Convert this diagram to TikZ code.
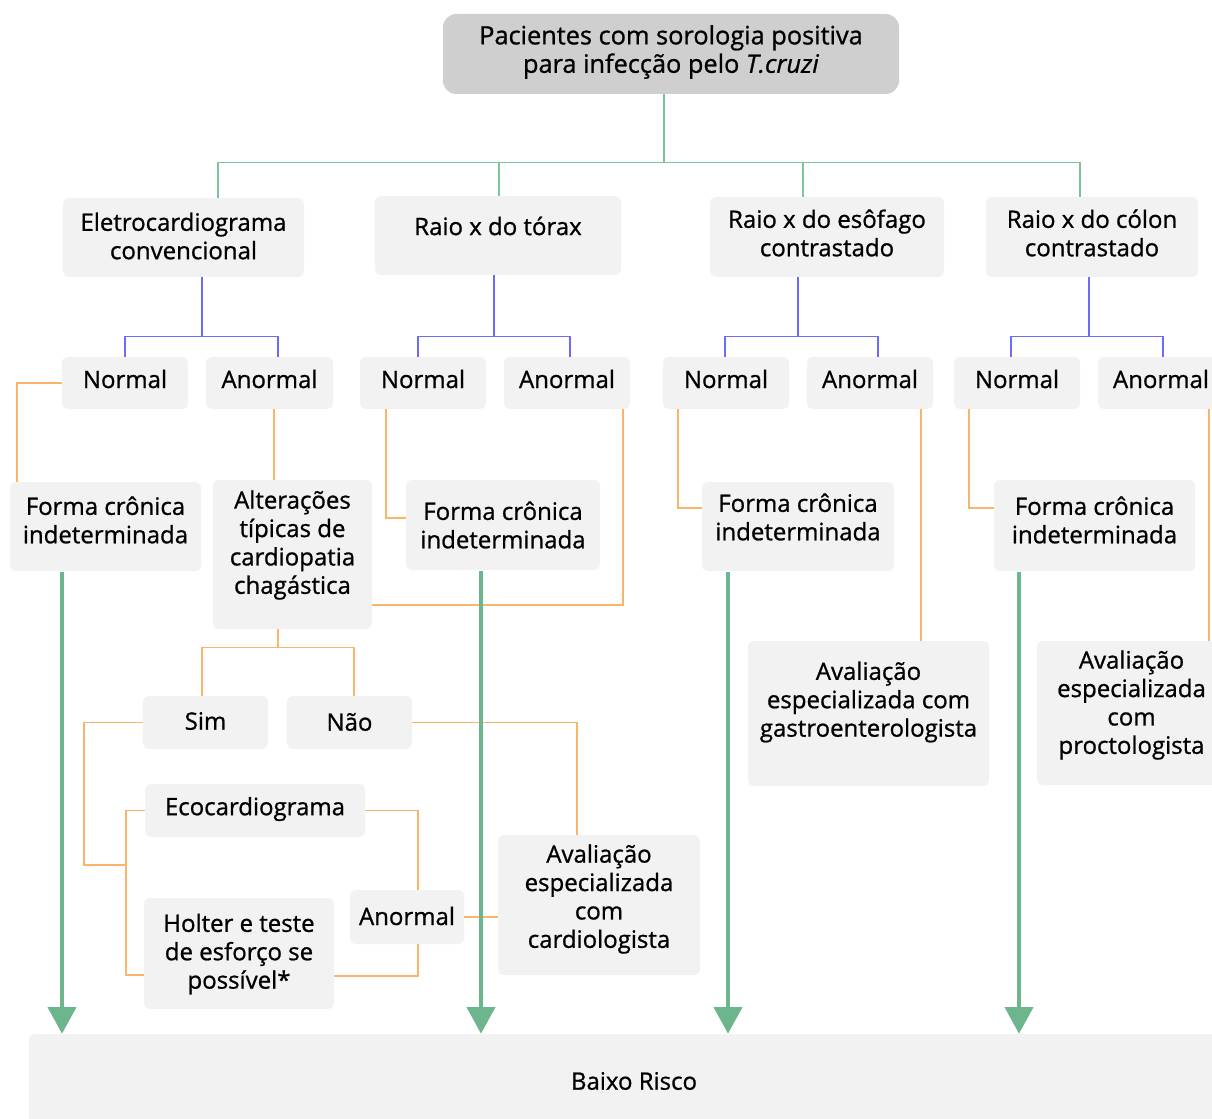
\documentclass[tikz,border=0pt]{standalone}
\usepackage{fontspec}
\setmainfont{Open Sans}[RawFeature={embolden=0.9}]
\usetikzlibrary{arrows.meta,calc}
\definecolor{boxgray}{HTML}{F2F2F2}
\definecolor{topgray}{HTML}{CFCFCF}
\definecolor{treegreen}{HTML}{7CC49B}
\definecolor{arrgreen}{HTML}{6DB58C}
\definecolor{linkblue}{HTML}{6B6BFF}
\definecolor{linkorange}{HTML}{F9B66B}

\tikzset{
  box/.style={rectangle, fill=boxgray, rounded corners=4pt, inner sep=0pt},
  topbox/.style={rectangle, fill=topgray, rounded corners=10pt, inner sep=0pt},
  txt/.style={align=center, inner sep=0pt, font=\fontsize{18}{21.3}\selectfont},
  gline/.style={draw=treegreen, line width=0.9pt},
  bline/.style={draw=linkblue, line width=0.9pt},
  oline/.style={draw=linkorange, line width=0.9pt},
  garrow/.style={draw=arrgreen, line width=3pt, -{Triangle[length=20pt, width=21pt]}},
}

% box node from pixel corners (x1,y1)-(x2,y2), text centred at height #7
\newcommand\bx[8][box]{%
  \node[#1, minimum width={(#5-#3)*0.75pt}, minimum height={(#6-#4)*0.75pt}]
    (#2) at ({(#3+#5)/2},{(#4+#6)/2}) {};
  \node[txt] (#2-t) at ({(#3+#5)/2},#7) {#8};
}

\begin{document}
\begin{tikzpicture}[x=0.75pt, y=-0.75pt]
\useasboundingbox (0,0) rectangle (1212,1119);

% top
\bx[topbox]{top}{443}{14}{899}{94}{52}{\fontsize{19}{21.8}\selectfont Pacientes com sorologia positiva\\\fontsize{19}{21.8}\selectfont para infecção pelo \textit{T.cruzi}}

% exams
\bx{ecg}{63}{198}{304}{277}{236}{Eletrocardiograma\\convencional}
\bx{tor}{375}{196}{621}{275}{226}{Raio x do tórax}
\bx{eso}{710}{197}{944}{277}{233}{Raio x do esôfago\\contrastado}
\bx{col}{986}{197}{1198}{277}{233}{Raio x do cólon\\contrastado}

% results
\bx{n1}{62}{357}{188}{409}{379}{Normal}
\bx{a1}{206}{357}{333}{409}{379}{Anormal}
\bx{n2}{360}{357}{486}{409}{379}{Normal}
\bx{a2}{504}{357}{630}{409}{379}{Anormal}
\bx{n3}{663}{357}{789}{409}{379}{Normal}
\bx{a3}{807}{357}{933}{409}{379}{Anormal}
\bx{n4}{954}{357}{1080}{409}{379}{Normal}
\bx{a4}{1098}{357}{1224}{409}{379}{Anormal}

% outcomes
\bx{f1}{10}{482}{201}{571}{520}{Forma crônica\\indeterminada}
\bx{alt}{213}{480}{372}{629}{545}{Alterações\\típicas de\\cardiopatia\\chagástica}
\bx{f2}{406}{480}{600}{570}{525}{Forma crônica\\indeterminada}
\bx{f3}{702}{482}{894}{571}{517}{Forma crônica\\indeterminada}
\bx{f4}{994}{480}{1195}{571}{520}{Forma crônica\\indeterminada}
\bx{gas}{748}{641}{989}{786}{702}{Avaliação\\especializada com\\gastroenterologista}
\bx{pro}{1037}{641}{1226}{785}{705}{Avaliação\\especializada\\com\\proctologista}

% cardiac branch
\bx{sim}{143}{696}{268}{749}{721}{Sim}
\bx{nao}{287}{696}{412}{749}{722}{Não}
\bx{eco}{145}{784}{365}{837}{809}{Ecocardiograma}
\bx{hol}{144}{898}{334}{1009}{954}{Holter e teste\\de esforço se\\possível*}
\bx{an5}{350}{890}{464}{944}{916}{Anormal}
\bx{car}{498}{835}{700}{975}{899}{Avaliação\\especializada\\com\\cardiologista}

% bottom
\bx{bx}{29}{1034}{1239}{1140}{1081}{Baixo Risco}

% green tree from the top box
\draw[gline] ($(top.south)+(-7,0)$) coordinate (g0) -- ++(0,68) coordinate (gb);
\draw[gline] ($(ecg.north)+(34.5,0)$) |- (gb) -| ($(col.north)+(-12,0)$);
\draw[gline] ($(tor.north)+(1,0)$) coordinate (g2) -- (g2 |- gb);
\draw[gline] ($(eso.north)+(-24,0)$) coordinate (g3) -- (g3 |- gb);

% blue result trees
\draw[bline] ($(ecg.south)+(18.5,0)$) -- ++(0,59) coordinate (b1);
\draw[bline] (n1.north) |- (b1) -| ($(a1.north)+(8.5,0)$);
\draw[bline] ($(tor.south)+(-4,0)$) -- ++(0,61) coordinate (b2);
\draw[bline] ($(n2.north)+(-5,0)$) |- (b2) -| ($(a2.north)+(3,0)$);
\draw[bline] ($(eso.south)+(-29,0)$) -- ++(0,59) coordinate (b3);
\draw[bline] ($(n3.north)+(-1,0)$) |- (b3) -| ($(a3.north)+(8,0)$);
\draw[bline] ($(col.south)+(-3,0)$) -- ++(0,59) coordinate (b4);
\draw[bline] ($(n4.north)+(-6,0)$) |- (b4) -| ($(a4.north)+(2,0)$);

% orange links
\draw[oline] (n1.west) -| ($(f1.north)+(-88.5,0)$);
\draw[oline] ($(a1.south)+(4.5,0)$) coordinate (o1) -- (o1 |- alt.north);
\draw[oline] ($(a2.south)+(56,0)$) |- ($(alt.east)+(0,50.5)$);
\draw[oline] ($(n2.south)+(-37,0)$) |- ($(f2.west)+(0,-7)$);
\draw[oline] ($(n3.south)+(-48,0)$) |- ($(f3.west)+(0,-18.5)$);
\draw[oline] ($(a3.south)+(51,0)$) coordinate (o3) -- (o3 |- gas.north);
\draw[oline] ($(n4.south)+(-48,0)$) |- ($(f4.west)+(0,-17.5)$);
\draw[oline] ($(a4.south)+(48,0)$) coordinate (o4) -- (o4 |- pro.north);

\draw[oline] ($(alt.south)+(-14.5,0)$) -- ++(0,18) coordinate (sb);
\draw[oline] ($(sim.north)+(-3.5,0)$) |- (sb) -| ($(nao.north)+(4.5,0)$);
\coordinate (ej) at (126,865);
\draw[oline] (sim.west) -| ($(ej)+(-42,0)$) -- (ej);
\draw[oline] (eco.west) -| (ej) |- ($(hol.west)+(0,21.5)$);
\draw[oline] (eco.east) -| ($(an5.north)+(11,0)$);
\draw[oline] ($(hol.east)+(0,22.5)$) -| ($(an5.south)+(11,0)$);
\draw[oline] (an5.east) -- (an5.east -| car.west);
\draw[oline] (nao.east) -| ($(car.north)+(-22,0)$);

% green arrows to low risk
\draw[garrow] ($(f1.south)+(-43.5,1)$) coordinate (s1) -- (s1 |- bx.north);
\draw[garrow] ($(f2.south)+(-22,1)$) coordinate (s2) -- (s2 |- bx.north);
\draw[garrow] ($(f3.south)+(-70,1)$) coordinate (s3) -- (s3 |- bx.north);
\draw[garrow] ($(f4.south)+(-75.5,1)$) coordinate (s4) -- (s4 |- bx.north);
\end{tikzpicture}
\end{document}
